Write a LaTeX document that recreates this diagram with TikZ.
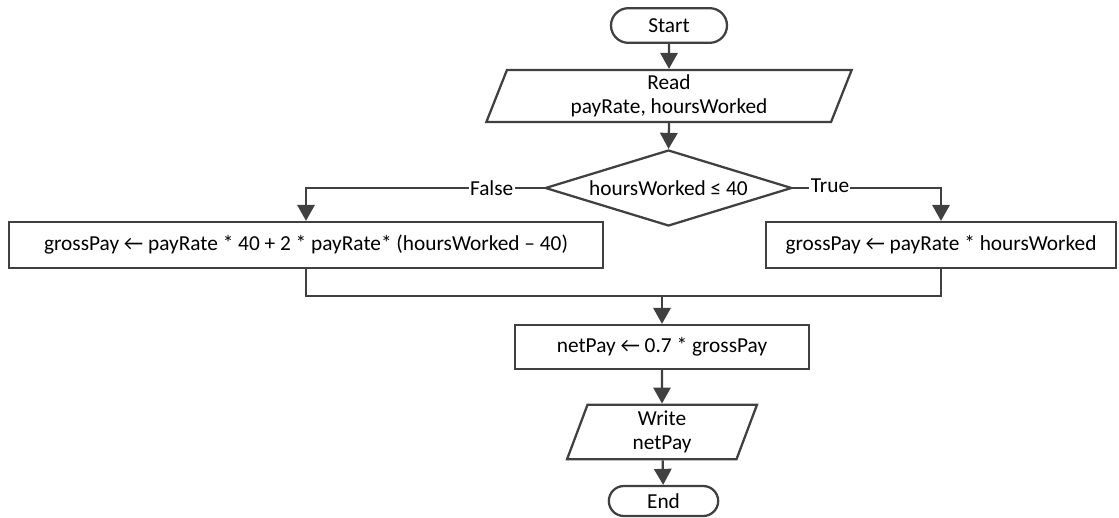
\documentclass[tikz,border=0pt]{standalone}
\usepackage{fontspec}
\setmainfont{Carlito}
\usetikzlibrary{shapes.geometric,shapes.misc,arrows.meta}

\definecolor{linegray}{HTML}{404040}

\tikzset{
	flow/.style={draw=linegray, line width=1.7pt, -{Triangle[length=12pt,width=13pt]}},
	shapebase/.style={draw=linegray, line width=1.7pt, fill=white, align=center, inner sep=0pt, font=\fontsize{16}{18}\selectfont},
	terminal/.style={shapebase, rounded rectangle},
	process/.style={shapebase, rectangle},
	inout/.style={shapebase, trapezium, trapezium left angle=64, trapezium right angle=116, trapezium stretches body},
	decision/.style={shapebase, diamond, aspect=3.25},
	branch/.style={fill=white, inner sep=1pt, font=\fontsize{16}{18}\selectfont}
}

\begin{document}
\begin{tikzpicture}[x=0.75pt, y=-0.75pt]
		\useasboundingbox (0,0) rectangle (1119,517);
		
		\node[terminal, minimum width=87pt, minimum height=26pt] (start) at (669,25.5) {Start};
		\node[inout, minimum width=274pt, minimum height=39pt] (read) at (669,96) {Read\\payRate, hoursWorked};
		\node[decision, minimum width=185pt, minimum height=57pt] (test) at (668.5,188) {hoursWorked ≤ 40};
		\node[process, minimum width=445.5pt, minimum height=34.5pt] (overtime) at (306,245) {grossPay ← payRate * 40 + 2 * payRate* (hoursWorked – 40)};
		\node[process, minimum width=262.5pt, minimum height=34.5pt] (normal) at (941,245) {grossPay ← payRate * hoursWorked};
		\coordinate (merge) at (662,296);
		\node[process, minimum width=220pt, minimum height=33pt] (net) at (662,347) {netPay ← 0.7 * grossPay};
		\node[inout, minimum width=142.5pt, minimum height=41pt] (write) at (662,432) {Write\\netPay};
		\node[terminal, minimum width=82pt, minimum height=22.5pt] (end) at (663.5,501) {End};
		
		\draw[flow] (start) -- (read);
		\draw[flow] (read.south) -- (test.north);
		\draw[flow] (test.west) -| (overtime.north) node[branch, pos=0.11] {False};
		\draw[flow] (test.east) -| (normal.north) node[branch, pos=0.125, yshift=2pt] {True};
		\draw[draw=linegray, line width=1.7pt] (overtime.south) |- (merge) -| (normal.south);
		\draw[flow] (merge) -- (net);
		\draw[flow] (net) -- (write);
		\draw[flow] (write) -- (end);
		\end{tikzpicture}
\end{document}
